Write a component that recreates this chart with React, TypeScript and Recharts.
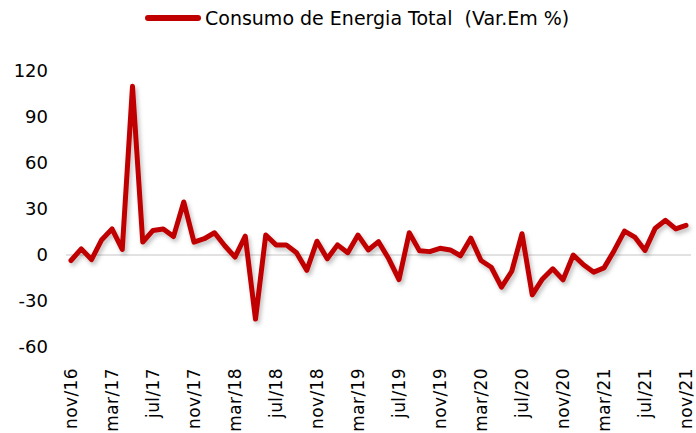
import React from "react";
import { LineChart, Line, XAxis, YAxis, ReferenceLine } from "recharts";

const months = [
  "nov/16", "dez/16", "jan/17", "fev/17", "mar/17", "abr/17", "mai/17", "jun/17", "jul/17", "ago/17", "set/17", "out/17",
  "nov/17", "dez/17", "jan/18", "fev/18", "mar/18", "abr/18", "mai/18", "jun/18", "jul/18", "ago/18", "set/18", "out/18",
  "nov/18", "dez/18", "jan/19", "fev/19", "mar/19", "abr/19", "mai/19", "jun/19", "jul/19", "ago/19", "set/19", "out/19",
  "nov/19", "dez/19", "jan/20", "fev/20", "mar/20", "abr/20", "mai/20", "jun/20", "jul/20", "ago/20", "set/20", "out/20",
  "nov/20", "dez/20", "jan/21", "fev/21", "mar/21", "abr/21", "mai/21", "jun/21", "jul/21", "ago/21", "set/21", "out/21",
  "nov/21",
];

const consumo = [
  -3.6, 4, -3, 10, 17, 3.6, 110, 8.4, 16, 17, 12, 34.6,
  8.4, 10.6, 14.5, 6, -1.4, 12.3, -41.8, 13, 6.6, 6.6, 1.5, -10,
  9, -2.5, 6.6, 1.5, 13, 3.3, 8.7, -2.5, -16, 14.5, 2.7, 2.2,
  4.4, 3.3, -0.5, 11, -3.6, -8, -21, -10.6, 13.9, -26, -15.6, -9,
  -16.2, 0, -6.4, -11.2, -8.4, 3, 15.6, 11.7, 3, 17.5, 22.6, 17,
  19.3,
];

const shownTicks = [
  "nov/16", "mar/17", "jul/17", "nov/17", "mar/18", "jul/18", "nov/18", "mar/19",
  "jul/19", "nov/19", "mar/20", "jul/20", "nov/20", "mar/21", "jul/21", "nov/21",
];

const yTicks = [-60, -30, 0, 30, 60, 90, 120];

const seriesName = "Consumo de Energia Total  (Var.Em %)";

const data = months.map((m, i) => ({ month: m, value: consumo[i] }));

const FONT = "'DejaVu Sans', sans-serif";

function MonthTick(props: any) {
  const { x, y, payload } = props;
  return (
    <text
      x={x}
      y={y + 13}
      transform={`rotate(-90, ${x}, ${y + 13})`}
      textAnchor="end"
      dy="0.35em"
      fontSize={17}
      letterSpacing={0.4}
      fontFamily={FONT}
      fill="#000"
    >
      {payload.value}
    </text>
  );
}

export default function App() {
  return (
    <div style={{ position: "absolute", left: 0, top: 0, width: 696, height: 433, background: "#fff" }}>
      <div
        style={{
          position: "absolute",
          left: 145,
          top: 7,
          display: "flex",
          alignItems: "center",
          fontFamily: FONT,
          fontSize: 19,
          color: "#000",
          whiteSpace: "pre",
        }}
      >
        <span
          style={{ display: "inline-block", width: 56, height: 6, borderRadius: 3, background: "#C00000", marginRight: 4 }}
        />
        <span>{seriesName}</span>
      </div>
      <LineChart width={696} height={433} data={data} margin={{ top: 71, right: 5, bottom: 0, left: 0 }}>
        <defs>
          <filter id="shadow" x="-5%" y="-5%" width="110%" height="120%">
            <feDropShadow dx="2" dy="3" stdDeviation="2" floodColor="#000" floodOpacity="0.25" />
          </filter>
        </defs>
        <XAxis
          dataKey="month"
          ticks={shownTicks}
          interval={0}
          axisLine={false}
          tickLine={false}
          height={86}
          padding={{ left: 5, right: 5 }}
          tick={<MonthTick />}
        />
        <YAxis
          domain={[-60, 120]}
          ticks={yTicks}
          axisLine={false}
          tickLine={false}
          tickSize={0}
          tickMargin={18}
          width={66}
          tick={{ fontSize: 18, fontFamily: FONT, fill: "#000" }}
        />
        <ReferenceLine y={0} stroke="#d9d9d9" strokeWidth={1.5} />
        <Line
          type="linear"
          dataKey="value"
          stroke="#C00000"
          strokeWidth={5}
          strokeLinejoin="round"
          strokeLinecap="round"
          dot={false}
          filter="url(#shadow)"
          isAnimationActive={false}
        />
      </LineChart>
    </div>
  );
}
